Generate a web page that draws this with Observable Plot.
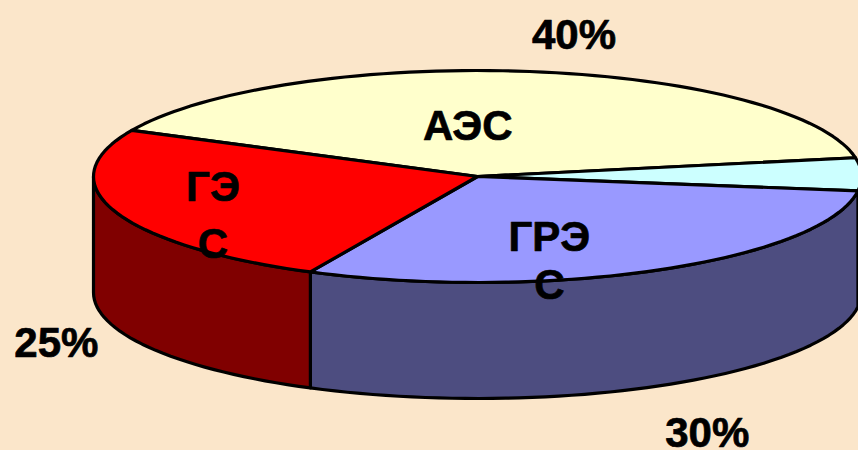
<!DOCTYPE html>
<html><head><meta charset="utf-8">
<script src="https://cdn.jsdelivr.net/npm/d3@7"></script>
<script src="https://cdn.jsdelivr.net/npm/@observablehq/plot@0.6"></script>
<style>html,body{margin:0;padding:0;background:#fbe6ca;overflow:hidden}svg{display:block}</style>
</head><body><div id="chart"></div>
<script>
const names = ["АЭС", "", "ГРЭС", "ГЭС"];
const nameLines = ["АЭС", "", "ГРЭ\nС", "ГЭ\nС"];
const values = [40, 5, 30, 25];
const percentLabels = ["40%", "", "30%", "25%"];
const topColors = ["#ffffcc", "#ccffff", "#9999ff", "#ff0000"];
const sideColors = ["#808066", "#668080", "#4d4d80", "#800000"];

const W = 858, H = 450, cx = 477, cy = 176, rx = 384;
const tilt = 106 / rx, depth = 116 / rx, startAngle = 154.2;
const rad = d => d * Math.PI / 180;
const px = (t, r = 1) => r * Math.cos(rad(t));
const py = (t, r = 1, z = 0) => r * Math.sin(rad(t)) * tilt - z;

let acc = startAngle;
const slices = values.map((v, i) => {
  const a0 = acc, a1 = acc - v * 3.6; acc = a1;
  return {i, name: names[i], lines: nameLines[i], pct: percentLabels[i], a0, a1, mid: (a0 + a1) / 2, top: topColors[i], side: sideColors[i]};
});
const arc = (a0, a1, z = 0) => {
  const n = Math.max(2, Math.ceil(Math.abs(a1 - a0) / 2));
  return d3.range(n + 1).map(k => { const t = a0 + (a1 - a0) * k / n; return {x: px(t), y: py(t, 1, z)}; });
};
// Only the front of the rim (180..360 degrees) shows a wall.
const walls = slices.map(s => {
  const u0 = s.a0 < 0 ? s.a0 + 360 : s.a0, u1 = s.a1 < 0 ? s.a1 + 360 : s.a1;
  let loA = Math.max(Math.min(u0, u1), 180), hiA = Math.max(u0, u1);
  if (s.a0 > 0 && s.a1 < 0) { loA = u1; hiA = 360; }
  if (hiA <= 180) return null;
  return {...s, pts: [...arc(loA, hiA, 0), ...arc(hiA, loA, depth)]};
}).filter(Boolean);
const tops = slices.map(s => ({...s, pts: [{x: 0, y: 0}, ...arc(s.a0, s.a1)]}));

const nameOffset = [[-41, 11], [0, 0], [-37, 27], [-47, 14]];
const pctOffset = [[34, -15], [0, 0], [12, 145], [14, 125]];
const nameData = slices.filter(s => s.lines);
const pctData = slices.filter(s => s.pct);
const textStyle = {fontFamily: "Liberation Sans, Arial, sans-serif", fontWeight: 700, fill: "black", stroke: "black", strokeWidth: 0.7, textAnchor: "middle"};

const poly = (pts, fill) => Plot.line(pts, {x: "x", y: "y", curve: "linear-closed", fill, stroke: "black", strokeWidth: 3.2, strokeLinejoin: "round"});
const plot = Plot.plot({
  width: W, height: H, margin: 0,
  x: {axis: null, domain: [-cx / rx, (W - cx) / rx], range: [0, W]},
  y: {axis: null, domain: [-(H - cy) / rx, cy / rx], range: [H, 0]},
  style: {background: "transparent"},
  marks: [
    ...walls.map(s => poly(s.pts, s.side)),
    ...tops.map(s => poly(s.pts, s.top)),
    ...nameData.map(s => Plot.text([s], {x: d => px(d.mid, .6), y: d => py(d.mid, .6), text: "lines", dx: nameOffset[s.i][0], dy: nameOffset[s.i][1], fontSize: 42, lineHeight: s.name === "ГЭС" ? 1.35 : 1.14, ...textStyle})),
    ...pctData.map(s => Plot.text([s], {x: d => px(d.mid, 1.2), y: d => py(d.mid, 1.2), text: "pct", dx: pctOffset[s.i][0], dy: pctOffset[s.i][1], fontSize: 42, ...textStyle}))
  ]
});
document.getElementById("chart").append(plot);
</script></body></html>
